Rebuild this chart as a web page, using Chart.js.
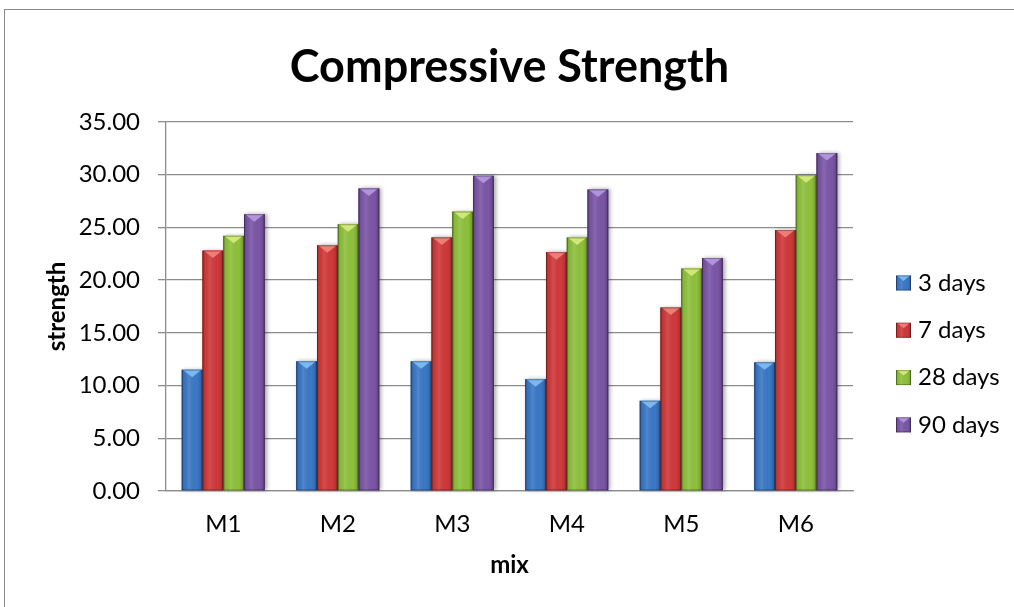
<!DOCTYPE html>
<html>
<head>
<meta charset="utf-8">
<script src="https://cdn.jsdelivr.net/npm/chart.js@4.4.1/dist/chart.umd.min.js"></script>
<style>
  html, body { margin: 0; padding: 0; background: #fff; }
  #wrap { position: relative; width: 1014px; height: 607px; overflow: hidden; }
  #frame { position: absolute; left: 4px; top: 9px; width: 1030px; height: 620px;
           border-left: 1.5px solid #8a8a8a; border-top: 1.5px solid #8a8a8a; }
  canvas { position: absolute; left: 0; top: 0; }
</style>
</head>
<body>
<div id="wrap">
  <div id="frame"></div>
  <canvas id="chart" width="1014" height="607"></canvas>
</div>
<script>
// Mixes on the category axis
const mixes = ['M1', 'M2', 'M3', 'M4', 'M5', 'M6'];

// Curing ages shown as series
const seriesNames = ['3 days', '7 days', '28 days', '90 days'];

// Compressive strength per mix at each age
const strength3d  = [11.5, 12.3, 12.3, 10.6, 8.55, 12.2];
const strength7d  = [22.8, 23.3, 24.05, 22.65, 17.4, 24.75];
const strength28d = [24.2, 25.3, 26.5, 24.05, 21.1, 29.95];
const strength90d = [26.25, 28.7, 29.9, 28.6, 22.1, 32.05];

// Value axis tick labels
const yTickValues = [0, 5, 10, 15, 20, 25, 30, 35];

// Series fills and the lighter colour of the bevelled top facet
const seriesColors     = ['#3b78c6', '#d0393a', '#8fc13c', '#7b56a7'];
const seriesHighlights = ['#7ab8f2', '#f07c76', '#d0e877', '#b093da'];

const FONT = 'Lato, "Open Sans", sans-serif';

const seriesValues = [strength3d, strength7d, strength28d, strength90d];
const datasets = seriesNames.map((name, i) => ({
  label: name,
  data: seriesValues[i],
  backgroundColor: seriesColors[i],
  borderWidth: 0,
  barPercentage: 1,
  categoryPercentage: 0.725
}));

// Soft drop shadow behind each bar
const barShadow = {
  id: 'barShadow',
  beforeDatasetsDraw(chart) {
    const ctx = chart.ctx;
    ctx.save();
    ctx.shadowColor = 'rgba(0,0,0,0.35)';
    ctx.shadowBlur = 4;
    ctx.shadowOffsetX = 2;
    ctx.shadowOffsetY = 0;
    chart.data.datasets.forEach((ds, di) => {
      chart.getDatasetMeta(di).data.forEach(bar => {
        const p = bar.getProps(['x', 'y', 'base', 'width'], true);
        ctx.fillStyle = seriesColors[di];
        ctx.fillRect(p.x - p.width / 2, p.y, p.width, p.base - p.y);
      });
    });
    ctx.restore();
  }
};

// Bevel shading: darker sides, lighter centre, light triangular top facet
function drawBevel(ctx, l, top, w, h, hi) {
  const r = l + w;
  const g = ctx.createLinearGradient(l, 0, r, 0);
  g.addColorStop(0, 'rgba(0,0,0,0.30)');
  g.addColorStop(0.1, 'rgba(0,0,0,0.06)');
  g.addColorStop(0.35, 'rgba(255,255,255,0.10)');
  g.addColorStop(0.75, 'rgba(0,0,0,0.0)');
  g.addColorStop(0.9, 'rgba(0,0,0,0.12)');
  g.addColorStop(1, 'rgba(0,0,0,0.35)');
  ctx.fillStyle = g;
  ctx.fillRect(l, top, w, h);
  const th = Math.min(w * 0.36, h);
  ctx.beginPath();
  ctx.moveTo(l + 1, top);
  ctx.lineTo(r - 1, top);
  ctx.lineTo(l + w / 2, top + th);
  ctx.closePath();
  ctx.fillStyle = hi;
  ctx.fill();
  ctx.strokeStyle = 'rgba(0,0,0,0.28)';
  ctx.lineWidth = 1;
  ctx.strokeRect(l + 0.5, top + 0.5, w - 1, h - 1);
}

const bevelBars = {
  id: 'bevelBars',
  afterDatasetsDraw(chart) {
    const ctx = chart.ctx;
    ctx.save();
    chart.data.datasets.forEach((ds, di) => {
      chart.getDatasetMeta(di).data.forEach(bar => {
        const p = bar.getProps(['x', 'y', 'base', 'width'], true);
        drawBevel(ctx, p.x - p.width / 2, p.y, p.width, p.base - p.y, seriesHighlights[di]);
      });
    });
    ctx.restore();
  }
};

// Legend on the right with bevelled swatches
const sideLegend = {
  id: 'sideLegend',
  afterDraw(chart) {
    const ctx = chart.ctx;
    const x0 = 896, y0 = 283, step = 47.3, box = 15;
    ctx.save();
    chart.data.datasets.forEach((ds, i) => {
      const cy = y0 + i * step;
      ctx.fillStyle = seriesColors[i];
      ctx.fillRect(x0, cy - box / 2, box, box);
      drawBevel(ctx, x0, cy - box / 2, box, box, seriesHighlights[i]);
      ctx.fillStyle = '#000';
      ctx.font = '24px ' + FONT;
      ctx.textBaseline = 'middle';
      ctx.textAlign = 'left';
      ctx.fillText(ds.label, x0 + 22, cy);
    });
    ctx.restore();
  }
};

new Chart(document.getElementById('chart'), {
  type: 'bar',
  data: { labels: mixes, datasets },
  plugins: [barShadow, bevelBars, sideLegend],
  options: {
    responsive: false,
    animation: false,
    layout: { padding: { left: 0, right: 161, top: 0, bottom: 0 } },
    plugins: {
      legend: { display: false },
      tooltip: { enabled: false },
      title: {
        display: true,
        text: 'Compressive Strength',
        fullSize: false,
        color: '#000',
        font: { family: FONT, size: 45, weight: 'bold', lineHeight: 1.2 },
        padding: { top: 40, bottom: 28 }
      }
    },
    scales: {
      x: {
        grid: { display: false, drawTicks: false },
        border: { display: true, color: '#8c8c8c', width: 1.3 },
        ticks: { color: '#000', padding: 19, font: { family: FONT, size: 24 } },
        title: {
          display: true, text: 'mix', color: '#000',
          font: { family: FONT, size: 24, weight: 'bold', lineHeight: 1.2 },
          padding: { top: 0, bottom: 27 }
        },
        afterFit(scale) { scale.height = 116; }
      },
      y: {
        min: 0, max: 35,
        afterBuildTicks(scale) { scale.ticks = yTickValues.map(v => ({ value: v })); },
        grid: { color: '#8c8c8c', lineWidth: 1.3, tickLength: 8, tickColor: '#8c8c8c' },
        border: { display: true, color: '#8c8c8c', width: 1.3 },
        ticks: {
          color: '#000', padding: 18, font: { family: FONT, size: 24 },
          callback: v => Number(v).toFixed(2)
        },
        title: {
          display: true, text: 'strength', color: '#000',
          font: { family: FONT, size: 24, weight: 'bold', lineHeight: 1.2 },
          padding: { top: 43, bottom: 0 }
        },
        afterFit(scale) { scale.width = 166; }
      }
    }
  }
});
</script>
</body>
</html>
